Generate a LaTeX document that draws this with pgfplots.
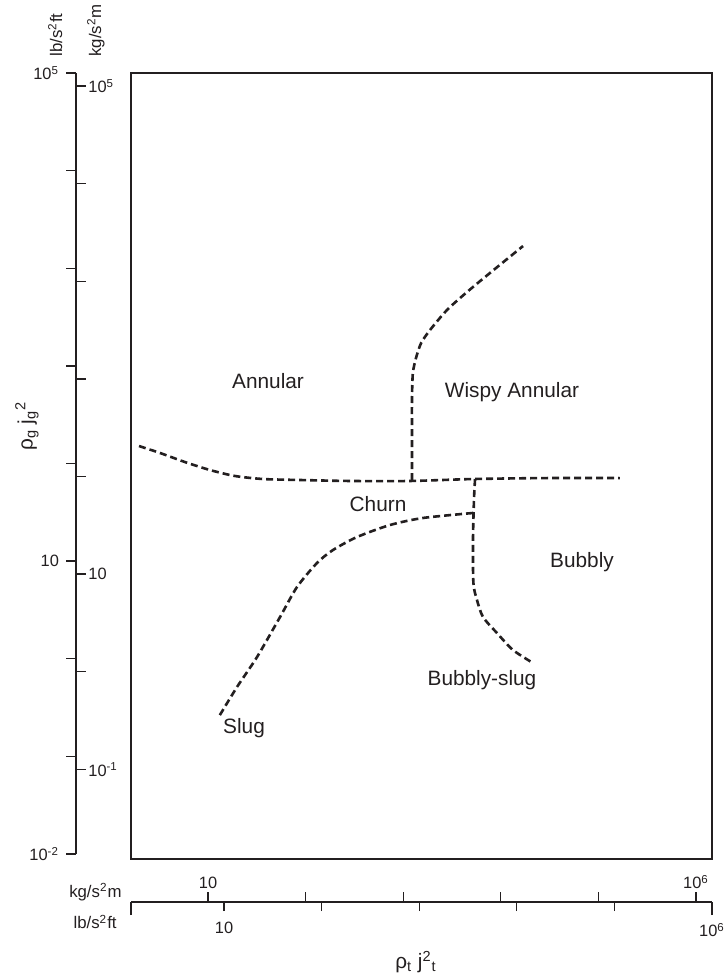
\documentclass[border=0pt]{standalone}
\usepackage{pgfplots}
\pgfplotsset{compat=1.18}
\usepackage{fontspec}
\setmainfont{Liberation Sans}
\definecolor{ink}{RGB}{35,31,32}
\tikzset{
  bnd/.style={ink, line width=1.3pt, dash pattern=on 3.5pt off 2pt, smooth, tension=0.45},
  lab/.style={font=\fontsize{10.4}{12}\selectfont, text=ink, inner sep=0pt},
}
\pgfplotsset{
  scalebase/.style={scale only axis, axis line style={-, ink, line width=0.65pt},
    tick style={ink, line width=0.65pt},
    ticklabel style={font=\fontsize{8.2}{9}\selectfont, text=ink}},
  noarrow/.style={x axis line style={-}, y axis line style={-}},
}
\begin{document}
\begin{tikzpicture}
\useasboundingbox (0,0) rectangle (362.5pt,-489pt);
% ---- main frame (coordinates: log10 of the lb/s^2ft scales) ----
\begin{axis}[at={(65.5pt,-429.5pt)}, anchor=south west, scale only axis,
  width=290.5pt, height=393pt, xmin=0.047, xmax=6, ymin=-3.053, ymax=5,
  xtick=\empty, ytick=\empty, axis line style={ink, line width=1.35pt}, clip=false]
% Annular / churn boundary
\addplot[bnd] coordinates {(0.129,1.178) (0.344,1.107) (0.600,1.014) (0.857,0.932)
  (1.113,0.871) (1.400,0.840) (1.779,0.830) (2.291,0.820) (2.906,0.820)
  (3.551,0.840) (4.309,0.850) (5.057,0.850)};
% Wispy annular boundary
\addplot[bnd] coordinates {(2.926,0.830) (2.926,1.240) (2.926,1.650) (2.935,1.926)
  (2.970,2.090) (3.020,2.234) (3.111,2.367) (3.285,2.572) (3.490,2.756)
  (3.725,2.951) (4.064,3.227)};
% Churn / bubbly boundary
\addplot[bnd] coordinates {(3.572,0.840) (3.561,0.625) (3.551,0.215) (3.555,-0.225)
  (3.592,-0.400) (3.654,-0.574) (3.797,-0.738) (3.961,-0.912) (4.166,-1.045)};
% Slug / churn boundary
\addplot[bnd] coordinates {(3.551,0.492) (3.039,0.441) (2.701,0.369) (2.363,0.246)
  (2.117,0.113) (1.953,-0.020) (1.748,-0.266) (1.574,-0.574) (1.338,-0.984)
  (1.133,-1.291) (0.939,-1.609)};
\node[lab] at (axis cs:1.451,1.844) {Annular};
\node[lab] at (axis cs:3.951,1.732) {Wispy Annular};
\node[lab] at (axis cs:2.578,0.584) {Churn};
\node[lab] at (axis cs:4.668,-0.010) {Bubbly};
\node[lab] at (axis cs:3.643,-1.219) {Bubbly-slug};
\node[lab] at (axis cs:1.205,-1.711) {Slug};
\end{axis}
% ---- left vertical scale, lb/s^2ft ticks ----
\begin{axis}[scalebase, at={(38pt,-427pt)}, anchor=south west,
  width=1pt, height=390.5pt, xmin=0, xmax=1, ymin=-3, ymax=5,
  hide x axis, axis y line=left, noarrow, tick align=outside, major tick length=5pt,
  ytick={-3,...,5}, yticklabels={10\textsuperscript{-2},,,10,,,,,10\textsuperscript{5}}]
\end{axis}
% ---- left vertical scale, kg/s^2m ticks ----
\begin{axis}[scalebase, at={(38pt,-427pt)}, anchor=south east,
  width=1pt, height=390.5pt, xmin=0, xmax=1, ymin=-3, ymax=5,
  hide x axis, axis y line=right, noarrow, tick align=outside, major tick length=5pt,
  yticklabel style={inner sep=1pt},
  ytick={-2.133,-1.133,-0.133,0.867,1.867,2.867,3.867,4.867},
  yticklabels={10\textsuperscript{-1},,10,,,,,10\textsuperscript{5}}]
\end{axis}
% ---- bottom scale, lb/s^2ft ticks ----
\begin{axis}[scalebase, at={(65.5pt,-451pt)}, anchor=south west,
  width=290.5pt, height=1pt, xmin=0.047, xmax=6, ymin=0, ymax=1,
  hide y axis, axis x line=bottom, noarrow, tick align=outside, major tick length=4.5pt,
  xticklabel style={yshift=-2pt},
  xtick={1,2,3,4,5}, xticklabels={10,,,,},
  extra x ticks={0.047,6}, extra x tick labels={,10\textsuperscript{6}},
  extra x tick style={major tick length=6.5pt, xticklabel style={yshift=1.5pt}}]
\end{axis}
% ---- bottom scale, kg/s^2m ticks ----
\begin{axis}[scalebase, at={(65.5pt,-451pt)}, anchor=north west,
  width=290.5pt, height=1pt, xmin=0.047, xmax=6, ymin=0, ymax=1,
  hide y axis, axis x line=top, noarrow, tick align=outside, major tick length=5pt,
  xticklabel style={yshift=-2pt},
  xtick={0.836,1.836,2.836,3.836,4.836,5.836}, xticklabels={10,,,,,10\textsuperscript{6}}]
\end{axis}
% ---- unit and quantity labels ----
\tikzset{unit/.style={font=\fontsize{8.4}{9}\selectfont, text=ink, inner sep=0pt}}
\node[unit, anchor=east] at (61pt,-446pt) {kg/s\textsuperscript{2}m};
\node[unit, anchor=east] at (58.5pt,-461pt) {lb/s\textsuperscript{2}ft};
\node[unit, rotate=90, anchor=base west] at (31pt,-28.5pt) {lb/s\textsuperscript{2}ft};
\node[unit, rotate=90, anchor=base west] at (50.5pt,-28.5pt) {kg/s\textsuperscript{2}m};
\node[lab, rotate=90] at (13.5pt,-213pt) {ρ\textsubscript{g} j\textsubscript{g}\textsuperscript{2}};
\node[lab] at (208pt,-481pt) {ρ\textsubscript{t} j\textsuperscript{2}\textsubscript{t}};
\end{tikzpicture}
\end{document}
